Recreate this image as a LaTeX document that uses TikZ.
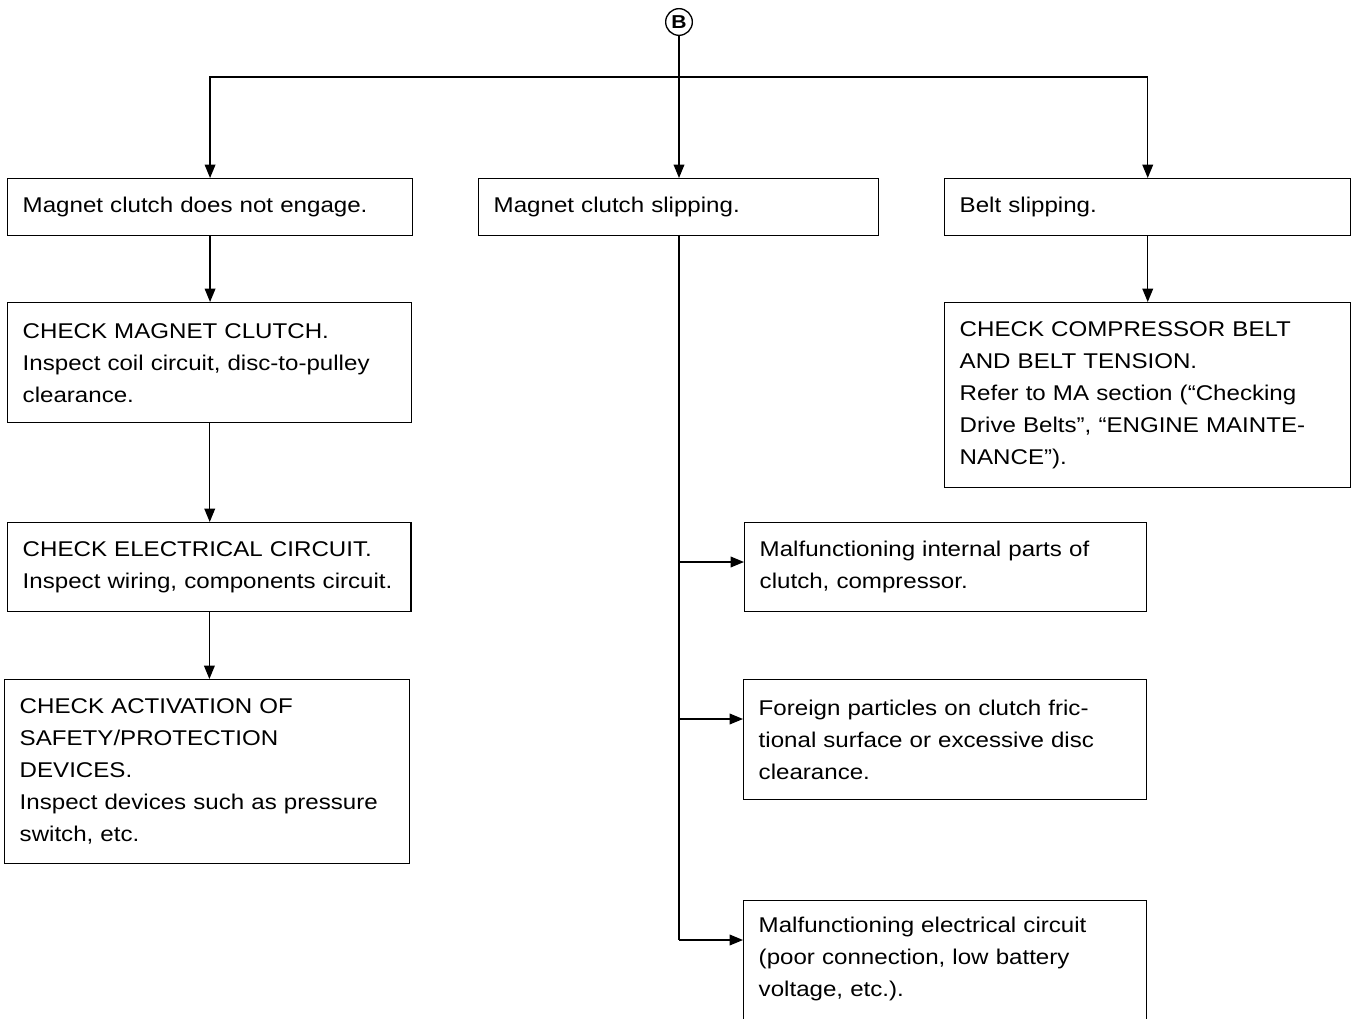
\documentclass[tikz,border=0pt]{standalone}
\usepackage{fontspec}
\setmainfont{Liberation Sans}[FakeStretch=1.13]
\usetikzlibrary{arrows.meta}
\begin{document}
\begin{tikzpicture}[x=0.75pt,y=-0.75pt,
  box/.style={draw, line width=1.1pt, anchor=north west, align=left,
    inner xsep=11.25pt, inner ysep=0pt,
    font=\fontsize{16pt}{24pt}\selectfont},
  conn/.style={line width=1pt},
  arr/.style={conn, -{Triangle[length=10pt,width=8pt]}},
  hubcirc/.style={draw, circle, line width=1pt, minimum size=20pt, inner sep=0pt,
    font=\fontsize{14pt}{14pt}\selectfont\bfseries}
]
\useasboundingbox (0,0) rectangle (1359,1019);

\node[hubcirc] (B) at (679,22) {B};

\node[box, text width=281pt, minimum height=42.75pt] (box1) at (7,178)
  {Magnet clutch does not engage.};
\node[box, text width=277.5pt, minimum height=42.75pt] (box2) at (478,178)
  {Magnet clutch slipping.};
\node[box, text width=282pt, minimum height=42.75pt] (box3) at (944,178)
  {Belt slipping.};

\node[box, text width=280.5pt, minimum height=90pt] (box4) at (7,302)
  {CHECK MAGNET CLUTCH.\\Inspect coil circuit, disc-to-pulley\\clearance.};
\node[box, text width=280pt, minimum height=66.75pt] (box5) at (7,522)
  {CHECK ELECTRICAL CIRCUIT.\\Inspect wiring, components circuit.};
\node[box, text width=281.25pt, minimum height=138pt] (box6) at (4,679)
  {CHECK ACTIVATION OF\\SAFETY/PROTECTION\\DEVICES.\\Inspect devices such as pressure\\switch, etc.};

\node[box, text width=282pt, minimum height=138.75pt] (box7) at (944,302)
  {CHECK COMPRESSOR BELT\\AND BELT TENSION.\\Refer to MA section (“Checking\\Drive Belts”, “ENGINE MAINTE-\\NANCE”).};

\node[box, text width=279pt, minimum height=66.75pt] (box8) at (744,522)
  {Malfunctioning internal parts of\\clutch, compressor.};
\node[box, text width=279.75pt, minimum height=90pt] (box9) at (743,679)
  {Foreign particles on clutch fric-\\tional surface or excessive disc\\clearance.};
\node[box, text width=279.75pt, minimum height=139.5pt] (box10) at (743,900)
  {Malfunctioning electrical circuit\\(poor connection, low battery\\voltage, etc.).\\\strut\\\strut};

% connectors
\coordinate (jn) at (679,77);
\draw[arr] (B.south) -- (B.south |- box2.north);
\draw[arr] (jn) -| (box1.north);
\draw[arr] (jn) -| (box3.north);
\draw[arr] (box1.south) -- (box1.south |- box4.north);
\draw[arr] (box4.south) -- (box4.south |- box5.north);
\draw[arr] (box5.south) -- (box5.south |- box6.north);
\draw[arr] (box3.south) -- (box3.south |- box7.north);

\coordinate (p8) at ([yshift=-30pt]box8.north west);
\coordinate (p9) at ([yshift=-30pt]box9.north west);
\coordinate (p10) at ([yshift=-30pt]box10.north west);
\coordinate (t0) at (679,235);
\draw[conn] (t0) -- (t0 |- p10);
\draw[arr] (t0 |- p8) -- (p8);
\draw[arr] (t0 |- p9) -- (p9);
\draw[arr] (t0 |- p10) -- (p10);
\end{tikzpicture}
\end{document}
